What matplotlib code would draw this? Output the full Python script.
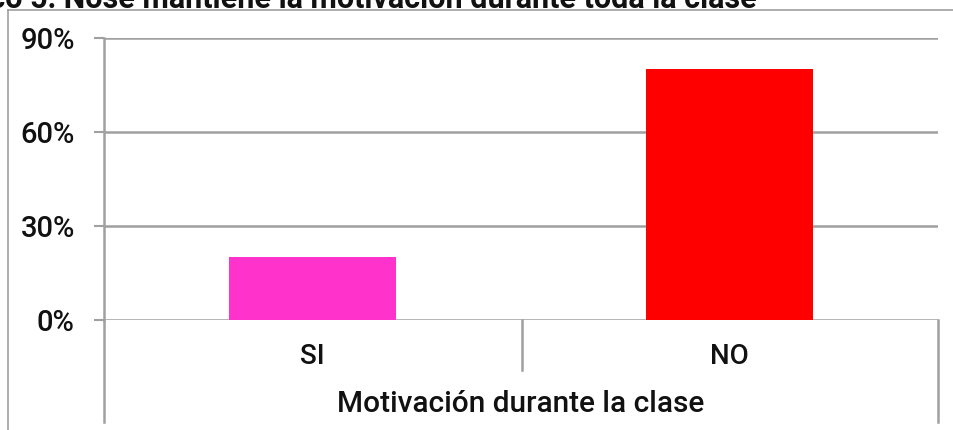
import matplotlib
matplotlib.use("Agg")
import matplotlib.pyplot as plt
from matplotlib.lines import Line2D
from matplotlib.ticker import FuncFormatter

categories = ["SI", "NO"]
values = [0.20, 0.80]
bar_colors = ["#ff33cc", "#ff0000"]
yticks = [0.0, 0.3, 0.6, 0.9]
xlabel = "Motivación durante la clase"
title = "Gráfico 5: Nose mantiene la motivación durante toda la clase"

plt.rcParams["font.family"] = ["Roboto", "DejaVu Sans"]

W, H = 954, 430
fig = plt.figure(figsize=(W / 100, H / 100), dpi=100)
fig.patch.set_facecolor("white")

def fx(px):
    return px / W

def fy(py):
    return 1 - py / H

left, right, top, bottom = 104, 938, 38, 320
ax = fig.add_axes([fx(left), fy(bottom), fx(right) - fx(left), fy(top) - fy(bottom)])

x = list(range(len(categories)))
ax.bar(x, values, width=0.4, color=bar_colors, zorder=3)
ax.set_xlim(-0.5, len(categories) - 0.5)
ax.set_ylim(0, 0.9)
ax.set_yticks(yticks)
ax.yaxis.set_major_formatter(FuncFormatter(lambda v, p: f"{v*100:.0f}%"))
ax.tick_params(axis="y", length=7, width=1.5, color="#a0a0a0", labelsize=21,
               labelcolor="#111111", pad=14)
for lbl in ax.get_yticklabels():
    lbl.set_fontweight("medium")
ax.set_xticks([])
ax.grid(axis="y", color="#a0a0a0", linewidth=1.8, zorder=1)
ax.set_axisbelow(True)
for s in ["top", "right", "bottom"]:
    ax.spines[s].set_visible(False)
ax.spines["left"].set_color("#a0a0a0")
ax.spines["left"].set_linewidth(1.8)

gray = "#a0a0a0"
# category axis box lines
fig.add_artist(Line2D([fx(left), fx(left)], [fy(320), fy(422)], color=gray, lw=1.8))
fig.add_artist(Line2D([fx(522), fx(522)], [fy(320), fy(370)], color=gray, lw=1.8))
fig.add_artist(Line2D([fx(right), fx(right)], [fy(320), fy(422)], color=gray, lw=1.8))
# outer frame
fig.add_artist(Line2D([fx(8), fx(954)], [fy(10), fy(10)], color=gray, lw=1.2))
fig.add_artist(Line2D([fx(8), fx(8)], [fy(10), fy(430)], color=gray, lw=1.2))

for i, c in enumerate(categories):
    xc = ax.transData.transform((i, 0))[0] / W
    fig.text(xc, fy(356), c, ha="center", va="center", fontsize=20,
             fontweight="medium", color="#111111")

fig.text(fx(521), fy(404), xlabel, ha="center", va="center", fontsize=21.5,
         fontweight="medium", color="#111111")

fig.text(fx(757), fy(8), title, ha="right", va="baseline", fontsize=22,
         fontweight="bold", color="#111111")

fig.savefig("out.png", dpi=100, facecolor="white")
